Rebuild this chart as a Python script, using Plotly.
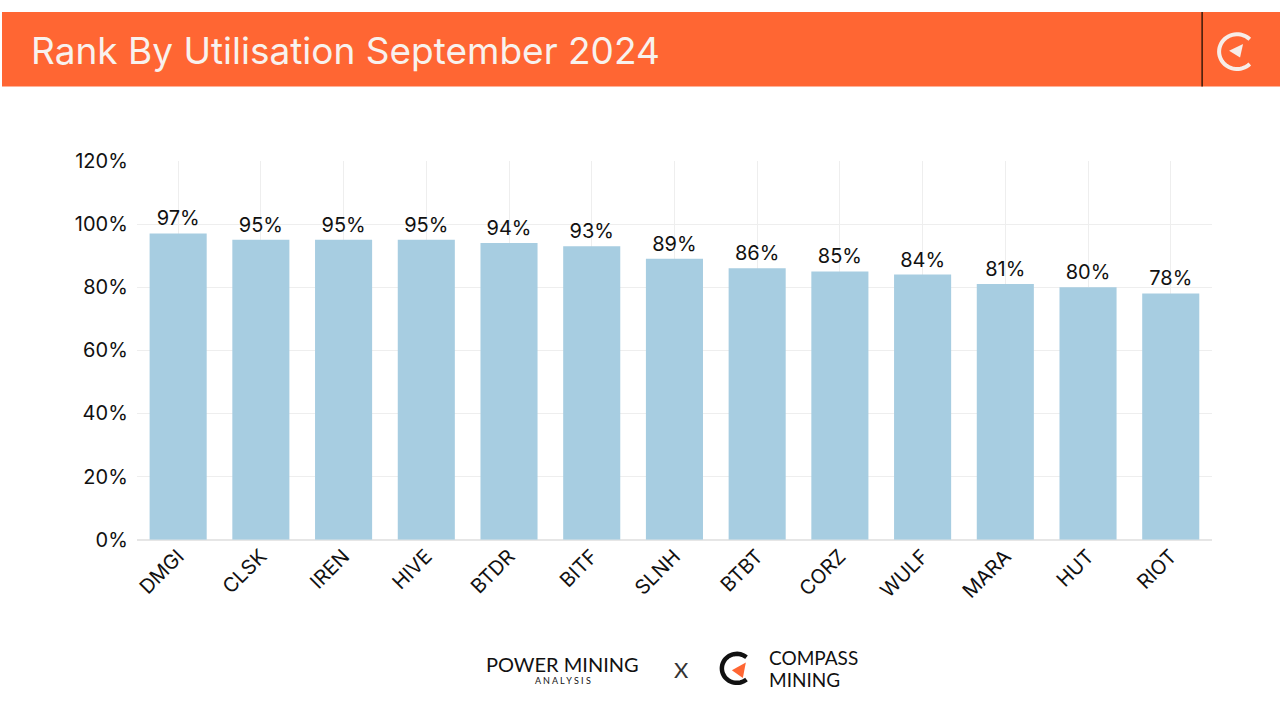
import plotly.graph_objects as go
import math

tickers = ["DMGI", "CLSK", "IREN", "HIVE", "BTDR", "BITF", "SLNH", "BTBT", "CORZ", "WULF", "MARA", "HUT", "RIOT"]
utilisation = [97, 95, 95, 95, 94, 93, 89, 86, 85, 84, 81, 80, 78]
y_ticks = [0, 20, 40, 60, 80, 100, 120]

W, H = 1280, 720
ORANGE = "#FF6633"
BAR = "#A7CDE1"
FONT = "Inter, Roboto, sans-serif"

def px(x):
    return x / W

def py(y):
    return 1 - y / H

fig = go.Figure()
fig.add_trace(go.Bar(
    x=tickers, y=utilisation,
    marker=dict(color=BAR, line=dict(width=0)),
    text=[f"{v}%" for v in utilisation],
    textposition="outside",
    textfont=dict(family=FONT, size=20, color="#111111"),
    cliponaxis=False,
    hoverinfo="skip",
))

shapes = [
    dict(type="rect", xref="paper", yref="paper", x0=0, x1=1, y0=py(77), y1=1,
         fillcolor=ORANGE, line=dict(width=0), layer="below"),
    dict(type="line", xref="paper", yref="paper", x0=px(1202), x1=px(1202), y0=py(77), y1=1,
         line=dict(color="#3a1a0a", width=1.5)),
]

def arc_path(cx, cy, r, a0, a1, n=40):
    pts = []
    for i in range(n + 1):
        a = math.radians(a0 + (a1 - a0) * i / n)
        pts.append((px(cx + r * math.cos(a)), py(cy - r * math.sin(a))))
    return "M " + " L ".join(f"{a:.5f},{b:.5f}" for a, b in pts)

def poly(points):
    return "M " + " L ".join(f"{px(a):.5f},{py(b):.5f}" for a, b in points) + " Z"

# header compass logo
shapes.append(dict(type="path", xref="paper", yref="paper",
                   path=arc_path(1237, 41, 18, 45, 315),
                   line=dict(color="#F7EDE8", width=4)))
shapes.append(dict(type="path", xref="paper", yref="paper",
                   path=poly([(1229, 40), (1243, 33), (1240, 47)]),
                   fillcolor="#F7EDE8", line=dict(width=0)))

# footer compass logo
shapes.append(dict(type="path", xref="paper", yref="paper",
                   path=arc_path(736, 679, 15, 50, 310),
                   line=dict(color="#111111", width=4.5)))
shapes.append(dict(type="path", xref="paper", yref="paper",
                   path=poly([(731, 681), (745, 673), (742, 689)]),
                   fillcolor=ORANGE, line=dict(width=0)))

annotations = [
    dict(text="Rank By Utilisation September 2024", xref="paper", yref="paper",
         x=px(27), y=py(40), xanchor="left", yanchor="middle", showarrow=False,
         font=dict(family=FONT, size=37, color="#F8F2EE")),
    dict(text="POWER MINING", xref="paper", yref="paper",
         x=px(561), y=py(674), xanchor="center", yanchor="middle", showarrow=False,
         font=dict(family="Lato, sans-serif", size=20, color="#111111")),
    dict(text="A N A L Y S I S", xref="paper", yref="paper",
         x=px(562), y=py(692), xanchor="center", yanchor="middle", showarrow=False,
         font=dict(family="Lato, sans-serif", size=9, color="#111111")),
    dict(text="X", xref="paper", yref="paper",
         x=px(681), y=py(680), xanchor="center", yanchor="middle", showarrow=False,
         font=dict(family="Lato, sans-serif", size=22, color="#333333")),
    dict(text="COMPASS", xref="paper", yref="paper",
         x=px(766), y=py(668), xanchor="left", yanchor="middle", showarrow=False,
         font=dict(family="Lato, sans-serif", size=19, color="#111111")),
    dict(text="MINING", xref="paper", yref="paper",
         x=px(766), y=py(690), xanchor="left", yanchor="middle", showarrow=False,
         font=dict(family="Lato, sans-serif", size=19, color="#111111")),
]

fig.update_layout(
    width=W, height=H,
    margin=dict(l=0, r=0, t=0, b=0),
    paper_bgcolor="white", plot_bgcolor="white",
    showlegend=False,
    bargap=0.31,
    shapes=shapes,
    annotations=annotations,
    xaxis=dict(domain=[px(135), px(1212)], showgrid=True, gridcolor="#EEEEEE",
               tickangle=-45, tickfont=dict(family=FONT, size=20, color="#111111"),
               showline=False, ticks="", fixedrange=True),
    yaxis=dict(domain=[py(546), py(154)], range=[0, 120], tickvals=y_ticks,
               ticktext=[f"{v}%" for v in y_ticks],
               showgrid=True, gridcolor="#EEEEEE", zeroline=True, zerolinecolor="#E6E6E6",
               tickfont=dict(family=FONT, size=20, color="#111111"),
               ticks="", ticklabelstandoff=8, fixedrange=True),
)

post = "document.body.style.margin='0px';document.body.style.padding='0px';"
fig.write_html("out.html", config={"displayModeBar": False}, post_script=post)
